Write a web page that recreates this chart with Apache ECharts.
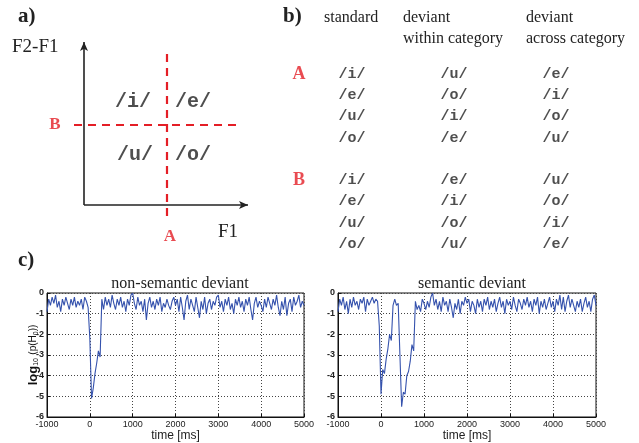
<!DOCTYPE html>
<html><head><meta charset="utf-8">
<script src="https://cdn.jsdelivr.net/npm/echarts@6/dist/echarts.min.js"></script>
<style>html,body{margin:0;padding:0;background:#fff}#c{width:639px;height:443px}</style>
</head><body><div id="c"></div>
<script>
// ---- panel a: vowel quadrants ----
const vowelLabels = ['/i/', '/e/', '/u/', '/o/'];
const vowelPos = [[49, 103], [109, 103], [51, 50], [109, 50]];
// ---- panel b: stimulus table ----
const tableHeaders = ['standard', 'deviant\nwithin category', 'deviant\nacross category'];
const conditionNames = ['A', 'B'];
const standardA = ['/i/', '/e/', '/u/', '/o/'];
const withinA = ['/u/', '/o/', '/i/', '/e/'];
const acrossA = ['/e/', '/i/', '/o/', '/u/'];
const standardB = ['/i/', '/e/', '/u/', '/o/'];
const withinB = ['/e/', '/i/', '/o/', '/u/'];
const acrossB = ['/u/', '/o/', '/i/', '/e/'];
// ---- panel c: log10 p(H0) time courses ----
const sampleStart = -1000, sampleStep = 40; // ms
const xTicks = [-1000, 0, 1000, 2000, 3000, 4000, 5000];
const yTicks = [0, -1, -2, -3, -4, -5, -6];
const nonSemantic = [
 -0.9,-0.3,-0.6,-0.2,-0.5,-0.1,-0.7,-0.4,-0.9,-0.3,
 -0.6,-0.2,-0.5,-0.8,-0.3,-0.6,-0.2,-0.7,-0.4,-0.6,
 -0.3,-0.8,-0.2,-0.4,-0.7,-2.2,-5.1,-4.6,-3.9,-3.4,
 -2.8,-3.1,-0.3,-0.8,-0.2,-0.6,-0.3,-0.7,-0.1,-0.5,
 -0.8,-0.3,-0.6,-0.2,-0.7,-0.4,-0.9,-0.3,-0.6,-0.1,
 0.0,-0.5,-0.8,-0.2,-0.6,-0.4,-0.9,-0.3,-1.3,-0.5,
 -0.2,-0.7,-0.4,-0.8,-0.3,-0.6,-0.2,-0.9,-0.5,-0.7,
 -0.3,-0.6,-0.8,-0.4,-0.2,-0.6,-0.3,-0.9,-0.2,-0.7,
 -1.3,-0.4,-0.1,-0.8,-0.3,-0.6,-0.9,-0.2,-0.7,-1.2,
 -0.4,-0.8,-0.2,-1.0,-0.5,-0.3,-0.8,-0.4,-0.6,-0.2,
 -0.1,-0.7,-0.4,-0.9,-0.3,-0.6,-0.2,-0.8,-0.5,-1.0,
 -0.3,-0.6,-0.2,-0.7,-0.4,-0.9,-0.3,-0.6,-0.2,-0.8,
 -1.3,-0.5,-0.2,-0.7,-0.4,-0.6,-0.9,-0.3,-0.7,-0.2,
 -0.5,-0.8,-0.3,-0.6,-0.1,-0.7,-1.1,-0.4,-0.8,-0.2,
 -1.1,-0.5,-0.3,-0.9,-0.2,-0.6,-0.4,-0.1,-0.7,-0.4,
 -0.6
];
const semantic = [
 -0.9,-0.3,-0.6,-0.2,-0.8,-0.4,-1.0,-0.3,-0.7,-0.2,
 -0.6,-0.4,-0.8,-0.3,-0.5,-0.2,-0.9,-0.3,-0.6,-0.4,
 -0.2,-0.5,-0.3,-0.4,-1.6,-4.9,-3.7,-3.9,-3.2,-2.7,
 -2.0,-2.3,-0.6,-0.3,-0.6,-0.5,-3.0,-5.5,-4.8,-4.9,
 -4.0,-3.8,-3.3,-2.5,-2.8,-0.4,-0.8,-0.6,-0.9,-0.3,
 -0.5,-0.8,-0.4,-0.7,-0.2,0.0,-0.6,-0.3,-0.8,-0.4,
 -0.9,-0.2,-0.6,-0.4,-0.9,-0.3,-0.7,-1.2,-0.5,-0.8,
 -0.3,-1.0,-0.4,-0.6,-0.2,-0.5,-0.3,-0.9,-0.4,-0.6,
 -1.0,-0.3,-0.7,-0.4,-0.9,-0.3,-0.6,-0.2,-0.8,-0.4,
 -0.7,-0.3,-0.9,-0.5,-0.2,-0.7,-0.4,-1.0,-0.3,-0.6,
 -0.4,-0.8,-0.2,-0.6,-0.9,-0.3,-0.5,-0.8,-0.3,-0.6,
 -0.2,-0.7,-0.4,-0.9,-0.3,-0.6,-0.2,-1.0,-0.4,-0.7,
 -0.3,-0.8,-0.5,-0.2,-0.7,-0.4,-0.9,-0.3,-0.6,-0.1,
 -0.8,-0.2,-0.9,-0.4,-0.1,-0.7,-0.3,-0.6,-0.9,-0.4,
 -0.7,-0.3,-0.9,-0.5,-0.2,-0.7,-0.4,-0.9,-0.3,-0.1,
 -0.6
];
const plotTitles = ['non-semantic deviant', 'semantic deviant'];

const SERIF = "'Liberation Serif', 'DejaVu Serif', serif";
const MONO = "'Liberation Mono', 'DejaVu Sans Mono', monospace";
const SANS = "'Liberation Sans', Arial, sans-serif";
const RED = '#e41e26';
const BLUE = '#3552ad';

const toPairs = arr => arr.map((v, i) => [sampleStart + i * sampleStep, v]);

const chart = echarts.init(document.getElementById('c'), null, {renderer: 'canvas'});

// table data
const tableCols = [[standardA, withinA, acrossA], [standardB, withinB, acrossB]];
const tableData = [];
tableCols.forEach((cols, ci) => {
  cols.forEach((col, c) => {
    col.forEach((txt, r) => tableData.push({value: [c, ci * 5 + r], name: txt}));
  });
});
const condData = conditionNames.map((n, i) => ({value: [-0.52, i * 5], name: n}));

function plotXAxis(gi) {
  return {
    gridIndex: gi, type: 'value', min: xTicks[0], max: xTicks[xTicks.length - 1], interval: 1000,
    axisLine: {show: true, onZero: false, lineStyle: {color: '#111', width: 1}},
    axisTick: {show: true, inside: true, length: 3, lineStyle: {color: '#111'}},
    axisLabel: {fontFamily: SANS, fontSize: 9, color: '#222', margin: 3,
      formatter: v => String(v)},
    splitLine: {show: true, lineStyle: {type: [1, 2], color: '#444', width: 1}},
    name: 'time [ms]', nameLocation: 'middle', nameGap: 13,
    nameTextStyle: {fontFamily: SANS, fontSize: 12, color: '#222'}
  };
}
function plotYAxis(gi, withName) {
  const ax = {
    gridIndex: gi, type: 'value', min: yTicks[yTicks.length - 1], max: yTicks[0], interval: 1,
    axisLine: {show: true, onZero: false, lineStyle: {color: '#111', width: 1}},
    axisTick: {show: true, inside: true, length: 3, lineStyle: {color: '#111'}},
    axisLabel: {fontFamily: SANS, fontSize: 9, color: '#222', margin: 3, fontWeight: 'bold',
      formatter: v => String(v)},
    splitLine: {show: true, lineStyle: {type: [1, 2], color: '#444', width: 1}}
  };
  if (withName) {
    ax.name = '{a|log}{b|10} {c|(p(H}{b|0}{c|))}';
    ax.nameLocation = 'middle';
    ax.nameGap = 7;
    ax.nameMoveOverlap = false;
    ax.nameTextStyle = {
      rich: {
        a: {fontFamily: SANS, fontSize: 13, fontWeight: 'bold', color: '#111'},
        b: {fontFamily: SANS, fontSize: 7, color: '#111', verticalAlign: 'bottom', padding: [5, 0, 0, 0]},
        c: {fontFamily: SANS, fontSize: 10, color: '#111'}
      }
    };
  }
  return ax;
}

const option = {
  animation: false,
  backgroundColor: '#fff',
  grid: [
    {left: 44, top: 42, width: 204, height: 203, show: false},            // a
    {left: 290.8, top: 74, width: 265.2, height: 170, show: false},       // b
    {left: 47, top: 293, width: 257, height: 130, show: true, borderColor: '#111', borderWidth: 1},
    {left: 338, top: 293, width: 258, height: 130, show: true, borderColor: '#111', borderWidth: 1}
  ],
  xAxis: [
    {gridIndex: 0, type: 'value', min: -40, max: 164, show: false},
    {gridIndex: 1, type: 'value', min: -0.6, max: 2, show: false},
    plotXAxis(2), plotXAxis(3)
  ],
  yAxis: [
    {gridIndex: 0, type: 'value', min: -40, max: 163, show: false},
    {gridIndex: 1, type: 'value', min: 0, max: 8, inverse: true, show: false},
    plotYAxis(2, true), plotYAxis(3, false)
  ],
  title: [
    {text: plotTitles[0], left: 175, top: 271, textAlign: 'center',
      textStyle: {fontFamily: SERIF, fontSize: 16, fontWeight: 'normal', color: '#222'}},
    {text: plotTitles[1], left: 467, top: 271, textAlign: 'center',
      textStyle: {fontFamily: SERIF, fontSize: 16, fontWeight: 'normal', color: '#222'}}
  ],
  graphic: [
    {type: 'text', left: 18, top: 6, style: {text: 'a)', font: "bold 21px " + SERIF, fill: '#222'}},
    {type: 'text', left: 283, top: 6, style: {text: 'b)', font: "bold 21px " + SERIF, fill: '#222'}},
    {type: 'text', left: 18, top: 250, style: {text: 'c)', font: "bold 21px " + SERIF, fill: '#222'}},
    {type: 'text', left: 12, top: 38, style: {text: 'F2-F1', font: "19px " + SERIF, fill: '#222'}},
    {type: 'text', left: 218, top: 223, style: {text: 'F1', font: "19px " + SERIF, fill: '#222'}},
    {type: 'text', left: 324, top: 7, style: {text: tableHeaders[0], font: "16px " + SERIF, fill: '#222', lineHeight: 21}},
    {type: 'text', left: 403, top: 7, style: {text: tableHeaders[1], font: "16px " + SERIF, fill: '#222', lineHeight: 21}},
    {type: 'text', left: 526, top: 7, style: {text: tableHeaders[2], font: "16px " + SERIF, fill: '#222', lineHeight: 21}}
  ],
  series: [
    // panel a: axes, boundaries and vowel labels
    {
      type: 'scatter', xAxisIndex: 0, yAxisIndex: 0, symbolSize: 0,
      data: vowelLabels.map((t, i) => ({value: vowelPos[i], name: t})),
      label: {show: true, formatter: '{b}', position: 'inside',
        fontFamily: MONO, fontWeight: 'bold', fontSize: 20, color: '#222'},
      markLine: {
        silent: true, animation: false, label: {show: false},
        data: [
          [{coord: [0, 0], symbol: 'none', lineStyle: {color: '#222', width: 1.6, type: 'solid'}},
           {coord: [164, 0], symbol: 'arrow', symbolSize: [6, 9]}],
          [{coord: [0, 0], symbol: 'none', lineStyle: {color: '#222', width: 1.6, type: 'solid'}},
           {coord: [0, 163], symbol: 'arrow', symbolSize: [6, 9]}],
          [{coord: [83, 151], symbol: 'none', lineStyle: {color: RED, width: 2.2, type: [8, 6]}},
           {coord: [83, -12], symbol: 'none'}],
          [{coord: [-10, 80], symbol: 'none', lineStyle: {color: RED, width: 2.2, type: [8, 6]}},
           {coord: [153, 80], symbol: 'none'}]
        ]
      }
    },
    {
      type: 'scatter', xAxisIndex: 0, yAxisIndex: 0, symbolSize: 0,
      data: [{value: [86, -32], name: conditionNames[0]}, {value: [-29, 80], name: conditionNames[1]}],
      label: {show: true, formatter: '{b}', position: 'inside',
        fontFamily: SERIF, fontWeight: 'bold', fontSize: 17, color: RED}
    },
    // panel b: table
    {
      type: 'scatter', xAxisIndex: 1, yAxisIndex: 1, symbolSize: 0, data: tableData,
      label: {show: true, formatter: '{b}', position: 'inside',
        fontFamily: MONO, fontWeight: 'bold', fontSize: 15, color: '#222'}
    },
    {
      type: 'scatter', xAxisIndex: 1, yAxisIndex: 1, symbolSize: 0, data: condData,
      label: {show: true, formatter: '{b}', position: 'inside',
        fontFamily: SERIF, fontWeight: 'bold', fontSize: 18, color: RED}
    },
    // panel c
    {type: 'line', xAxisIndex: 2, yAxisIndex: 2, data: toPairs(nonSemantic), showSymbol: false,
      lineStyle: {color: BLUE, width: 1.1}, clip: true},
    {type: 'line', xAxisIndex: 3, yAxisIndex: 3, data: toPairs(semantic), showSymbol: false,
      lineStyle: {color: BLUE, width: 1.1}, clip: true}
  ]
};
chart.setOption(option);
</script>
</body></html>
